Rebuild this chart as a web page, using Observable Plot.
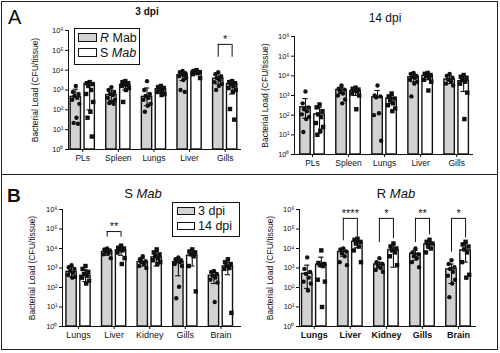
<!DOCTYPE html>
<html><head><meta charset="utf-8">
<script src="https://cdn.jsdelivr.net/npm/d3@7"></script>
<script src="https://cdn.jsdelivr.net/npm/@observablehq/plot@0.6"></script>
<style>
body{margin:0;background:#fff;font-family:"Liberation Sans",Arial,sans-serif;color:#111;}
#fig{position:relative;width:500px;height:353px;overflow:hidden;background:#fff;}
.abs{position:absolute;}
.ctr{position:absolute;transform:translate(-50%,-50%);line-height:1;white-space:nowrap;}
.lft{position:absolute;transform:translate(0,-50%);line-height:1;white-space:nowrap;}
.sw{position:absolute;border:1px solid #111;box-sizing:border-box;}
.box{position:absolute;border:1px solid #111;box-sizing:border-box;}
</style></head><body><div id="fig"></div>
<script>
// ---------- shared axis ticks ----------
const tickVals = [1, 10, 100, 1000, 10000, 100000, 1000000];
const tickLabels = ["10⁰", "10¹", "10²", "10³", "10⁴", "10⁵", "10⁶"];
const yLabel = "Bacterial Load (CFU/tissue)";

// ---------- Panel A : 3 dpi (gray = R Mab, white = S Mab) ----------
const catsA = ["PLs", "Spleen", "Lungs", "Liver", "Gills"];
const a3MeanR = [450, 560, 450, 5600, 3700];
const a3MeanS = [2000, 1800, 1100, 8500, 2000];
const a3HiR = [1100, 1000, 1260, 8000, 7000];
const a3LoR = [null, 300, 160, 3000, 2000];
const a3HiS = [2500, 2500, 1600, 10000, 2800];
const a3LoS = [100, 1000, 700, 6300, 630];
const a3DotsR = [
  [1600, 800, 630, 500, 400, 320, 200, 40, 22, 20],
  [1400, 1000, 800, 630, 560, 400, 320, 250, 220, 200],
  [2800, 1000, 630, 500, 400, 320, 200, 160, 80],
  [9000, 8000, 7000, 6300, 5600, 5000, 4000, 3200, 1000, 800],
  [8000, 6300, 5000, 4000, 3200, 2500, 2000, 1600, 1000]
];
const a3DotsS = [
  [2500, 2200, 2000, 1600, 1000, 630, 250, 80, 40, 4.5],
  [2800, 2500, 2200, 2000, 1800, 1600, 1260, 1000, 250],
  [1600, 1400, 1260, 1000, 900, 800, 630, 560],
  [10000, 9000, 8000, 8000, 7000, 6300, 4000],
  [2800, 2500, 2200, 2000, 1600, 1260, 1000, 800, 110, 32]
];
const a3Brackets = [{cat: 4, top: 200000, legL: 45000, legR: 45000, label: "*"}];

// ---------- Panel A : 14 dpi ----------
const a14MeanR = [250, 1900, 800, 8500, 6500];
const a14MeanS = [110, 1700, 700, 9800, 5400];
const a14HiR = [700, 2500, 1800, 12600, 10000];
const a14LoR = [70, 1260, null, 5000, 4000];
const a14HiS = [250, 2200, 1000, 12600, 9000];
const a14LoS = [12, 1000, 400, 6300, 1600];
const a14DotsR = [
  [1600, 400, 250, 200, 160, 110, 80, 63, 14],
  [3200, 2200, 2000, 1600, 1260, 1000, 630, 400],
  [3200, 1000, 900, 800, 125, 100, 5],
  [14000, 12600, 10000, 9000, 8000, 6300, 5000, 4000, 900],
  [12600, 10000, 8000, 6300, 5000, 4000, 3200]
];
const a14DotsS = [
  [350, 250, 160, 110, 80, 40, 25, 16, 10],
  [2500, 2200, 2000, 1800, 1600, 1260, 1000, 200],
  [1260, 900, 700, 560, 400, 320, 220, 160],
  [14000, 12600, 11000, 10000, 8000, 6300, 5000, 1800],
  [11000, 9000, 8000, 6300, 5000, 4000, 1400, 63]
];

// ---------- Panel B : S Mab (gray = 3 dpi, white = 14 dpi) ----------
const catsB = ["Lungs", "Liver", "Kidney", "Gills", "Brain"];
const bsMean3 = [630, 6600, 2000, 2000, 400];
const bsMean14 = [400, 8100, 3500, 4300, 1200];
const bsHi3 = [1100, 9000, 3200, 2800, 630];
const bsLo3 = [350, 4500, 1260, 400, 160];
const bsHi14 = [800, 11000, 7000, 8000, 2000];
const bsLo14 = [200, 4500, 1260, 1260, 450];
const bsDots3 = [
  [1400, 1100, 900, 700, 560, 450, 350, 320],
  [10000, 9000, 8000, 7000, 5600, 5000, 3200],
  [4000, 2800, 2200, 2000, 1600, 1260, 1000],
  [3500, 2800, 2500, 2200, 2000, 1600, 1260, 110, 28],
  [700, 630, 500, 400, 320, 250, 180, 18]
];
const bsDots14 = [
  [1260, 900, 630, 500, 400, 320, 220, 160],
  [14000, 11000, 10000, 9000, 8000, 6300, 3200, 1600],
  [9000, 6300, 5000, 4000, 3200, 2500, 2000, 1600],
  [9000, 7000, 6300, 5000, 4000, 1260, 63],
  [2800, 2000, 1600, 1260, 1000, 900, 5]
];
const bsBrackets = [{cat: 1, top: 74000, legL: 38000, legR: 38000, label: "**"}];

// ---------- Panel B : R Mab ----------
const brMean3 = [500, 6600, 1500, 5400, 850];
const brMean14 = [1500, 22000, 8000, 16000, 8000];
const brHi3 = [1400, 9000, 2000, 8000, 1600];
const brLo3 = [90, 4000, 1000, 2500, 160];
const brHi14 = [3600, 32000, 16000, 22000, 20000];
const brLo14 = [null, 11000, 1100, 10000, 2000];
const brDots3 = [
  [3500, 900, 630, 500, 320, 200, 160, 70],
  [10000, 9000, 7000, 5600, 4000, 2000, 1400],
  [3200, 2000, 1600, 1260, 1000, 800, 630],
  [10000, 6300, 5000, 4000, 3200, 2000, 1100],
  [2500, 1600, 1100, 900, 630, 400, 250, 160, 32]
];
const brDots14 = [
  [8000, 1800, 1600, 1400, 1260, 250, 200, 10],
  [32000, 28000, 22000, 18000, 12600, 8000, 2000],
  [18000, 12600, 10000, 8000, 6300, 4000, 1400],
  [28000, 22000, 18000, 14000, 10000, 6300],
  [22000, 16000, 12600, 9000, 6300, 2000, 450, 320]
];
const brBrackets = [
  {cat: 1, top: 350000, legL: 25000, legR: 40000, label: "****"},
  {cat: 2, top: 350000, legL: 20000, legR: 32000, label: "*"},
  {cat: 3, top: 350000, legL: 20000, legR: 50000, label: "**"},
  {cat: 4, top: 350000, legL: 6500, legR: 34000, label: "*"}
];

// ---------- drawing ----------
const GRAY = "#d2d2d2";
const spread = [0, -0.08, 0.08, -0.04, 0.04, -0.1, 0.1, 0.02, -0.06, 0.06];
const fig = document.getElementById("fig");

function panel(cfg) {
  const {cats, meanG, meanW, hiG, loG, hiW, loW, dotsG, dotsW, brackets} = cfg;
  const off = 0.195, half = 0.145, cap = 0.075;
  const bars = [], errs = [], caps = [], dots = [];
  cats.forEach((c, i) => {
    [[meanG, hiG, loG, dotsG, -1, GRAY, "circle"], [meanW, hiW, loW, dotsW, 1, "#fff", "square"]]
      .forEach(([m, hi, lo, ds, s, fill, sym]) => {
        const xc = i + s * off;
        bars.push({x1: xc - half, x2: xc + half, v: m[i], fill});
        errs.push({x: xc, y1: lo[i] == null ? m[i] : lo[i], y2: hi[i]});
        caps.push({x1: xc - cap, x2: xc + cap, y: hi[i]});
        if (lo[i] != null) caps.push({x1: xc - cap, x2: xc + cap, y: lo[i]});
        ds[i].forEach((v, k) => dots.push({x: xc + spread[k % spread.length], v, sym}));
      });
  });
  const legs = [], tops = [];
  brackets.forEach(b => {
    legs.push({x: b.cat - off, y1: b.legL, y2: b.top});
    legs.push({x: b.cat + off, y1: b.legR, y2: b.top});
    tops.push({x1: b.cat - off, x2: b.cat + off, y: b.top});
  });
  const svg = Plot.plot({
    width: cfg.width, height: cfg.height,
    marginLeft: cfg.ml, marginRight: cfg.mr, marginTop: cfg.mt, marginBottom: cfg.mb,
    style: {fontFamily: "Liberation Sans, Arial, sans-serif", fontSize: cfg.xFont + "px", color: "#111", background: "transparent", overflow: "visible"},
    x: {domain: cfg.xDomain, ticks: [0, 1, 2, 3, 4], tickFormat: i => cats[Math.round(i)], tickSize: 3, tickPadding: 2, line: true, label: null},
    y: {type: "log", domain: [1, 1e6], ticks: tickVals, tickFormat: v => tickLabels[tickVals.indexOf(v)], tickSize: 3, tickPadding: 2, line: true, label: null},
    marks: [
      Plot.rectY(bars, {x1: "x1", x2: "x2", y1: 1, y2: "v", fill: "fill", stroke: "#111", strokeWidth: 1.4}),
      Plot.dot(dots.filter(d => d.sym === "circle"), {x: "x", y: "v", r: 2.2, fill: "#111", stroke: "none", symbol: "circle"}),
      Plot.dot(dots.filter(d => d.sym === "square"), {x: "x", y: "v", r: 2.5, fill: "#111", stroke: "none", symbol: "square"}),
      Plot.ruleX(errs, {x: "x", y1: "y1", y2: "y2", stroke: "#111", strokeWidth: 1.1}),
      Plot.ruleY(caps, {x1: "x1", x2: "x2", y: "y", stroke: "#111", strokeWidth: 1.1}),
      Plot.ruleX(legs, {x: "x", y1: "y1", y2: "y2", stroke: "#111", strokeWidth: 1}),
      Plot.ruleY(tops, {x1: "x1", x2: "x2", y: "y", stroke: "#111", strokeWidth: 1}),
      Plot.text(brackets, {x: "cat", y: "top", text: "label", dy: -5, fontSize: 11, fill: "#111"}),
      Plot.text([yLabel], {text: d => d, frameAnchor: "left", textAnchor: "middle", rotate: -90, dx: cfg.labelX - cfg.ml, fontSize: cfg.yLabFont, fill: "#111"})
    ]
  });
  d3.select(svg).selectAll('[aria-label="y-axis tick label"]').attr("font-size", 7.5);
  if (cfg.xBold) d3.select(svg).selectAll('[aria-label="x-axis tick label"]').attr("font-weight", "bold");
  svg.style.position = "absolute";
  svg.style.left = cfg.left + "px";
  svg.style.top = cfg.top + "px";
  fig.appendChild(svg);
}

panel({cats: catsA, meanG: a3MeanR, meanW: a3MeanS, hiG: a3HiR, loG: a3LoR, hiW: a3HiS, loW: a3LoS,
  dotsG: a3DotsR, dotsW: a3DotsS, brackets: a3Brackets,
  left: 0, top: 0, width: 250, height: 172, ml: 68, mr: 10, mt: 30, mb: 23, xDomain: [-0.4, 4.43],
  labelX: 35, xFont: 8.5, yLabFont: 8.5});
panel({cats: catsA, meanG: a14MeanR, meanW: a14MeanS, hiG: a14HiR, loG: a14LoR, hiW: a14HiS, loW: a14LoS,
  dotsG: a14DotsR, dotsW: a14DotsS, brackets: [],
  left: 250, top: 0, width: 250, height: 172, ml: 44, mr: 28, mt: 36, mb: 18, xDomain: [-0.5, 4.44],
  labelX: 15, xFont: 8.5, yLabFont: 8.5});
panel({cats: catsB, meanG: bsMean3, meanW: bsMean14, hiG: bsHi3, loG: bsLo3, hiW: bsHi14, loW: bsLo14,
  dotsG: bsDots3, dotsW: bsDots14, brackets: bsBrackets,
  left: 0, top: 175, width: 250, height: 175, ml: 62, mr: 10, mt: 34, mb: 24, xDomain: [-0.45, 4.55],
  labelX: 32, xFont: 9, yLabFont: 8.5});
panel({cats: catsB, meanG: brMean3, meanW: brMean14, hiG: brHi3, loG: brLo3, hiW: brHi14, loW: brLo14,
  dotsG: brDots3, dotsW: brDots14, brackets: brBrackets,
  left: 250, top: 175, width: 250, height: 175, ml: 49, mr: 25, mt: 34, mb: 24, xDomain: [-0.41, 4.47],
  labelX: 20, xFont: 9, yLabFont: 8.5, xBold: true});

// ---------- frame, titles, legends ----------
function el(cls, css, html) {
  const d = document.createElement("div");
  d.className = cls; d.style.cssText = css; if (html != null) d.innerHTML = html;
  fig.appendChild(d); return d;
}
el("box", "left:1px;top:1px;width:497px;height:349px;border-width:1.5px;border-color:#222;");
el("abs", "left:1px;top:174px;width:497px;height:0;border-top:1.5px solid #222;");

el("lft", "left:8px;top:17px;font-size:20px;", "A");
el("lft", "left:7px;top:195px;font-size:19px;font-weight:bold;", "B");
el("ctr", "left:147px;top:12px;font-size:10px;font-weight:bold;", "3 dpi");
el("ctr", "left:385px;top:18px;font-size:12px;", "14 dpi");
el("ctr", "left:143px;top:193px;font-size:13px;", "S <i>Mab</i>");
el("ctr", "left:396px;top:193px;font-size:13px;", "R <i>Mab</i>");

el("box", "left:74px;top:28px;width:66px;height:37px;");
el("sw", `left:78px;top:33px;width:19px;height:9px;background:${GRAY};`);
el("lft", "left:100px;top:37.5px;font-size:12.5px;", "<i>R</i> Mab");
el("sw", "left:78px;top:48px;width:19px;height:9px;background:#fff;");
el("lft", "left:100px;top:52.5px;font-size:12.5px;", "S <i>Mab</i>");

el("box", "left:172px;top:202px;width:68px;height:35px;");
el("sw", `left:177px;top:207px;width:18px;height:8px;background:${GRAY};`);
el("lft", "left:198px;top:210.5px;font-size:12.5px;", "3 dpi");
el("sw", "left:177px;top:222px;width:18px;height:8px;background:#fff;");
el("lft", "left:198px;top:226px;font-size:12.5px;", "14 dpi");
</script></body></html>
